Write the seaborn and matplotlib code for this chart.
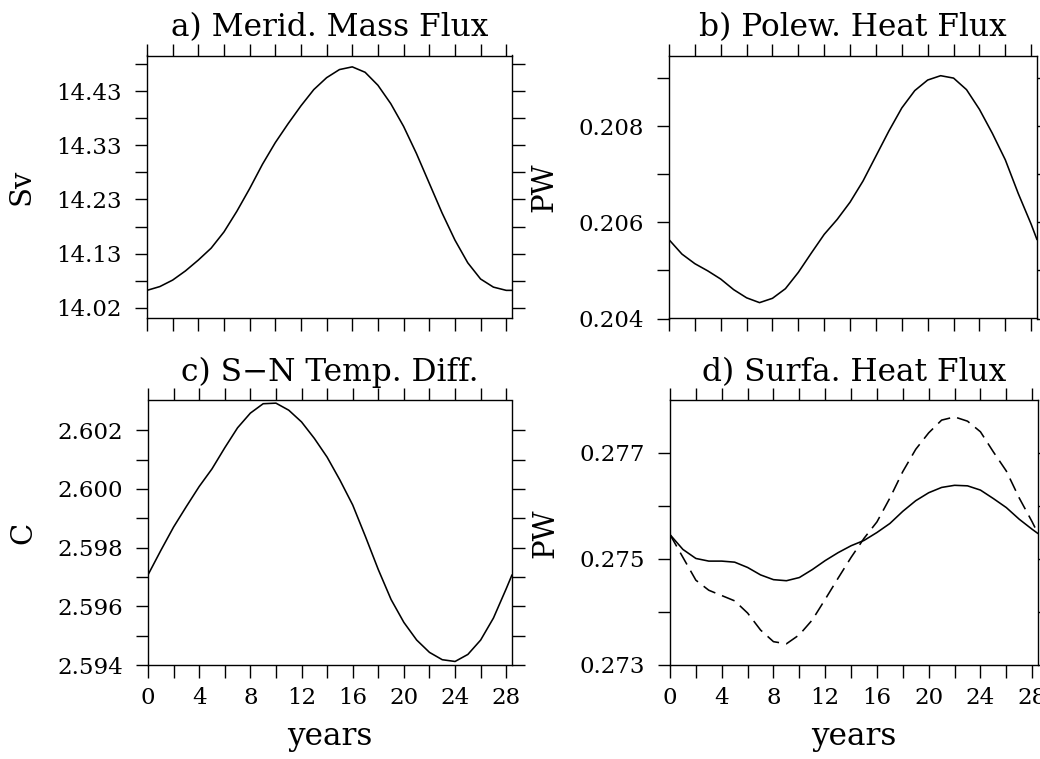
import matplotlib
matplotlib.use("Agg")
import matplotlib.pyplot as plt
import seaborn as sns

# ---------------- data ----------------
years = [0, 1, 2, 3, 4, 5, 6, 7, 8, 9, 10, 11, 12, 13, 14, 15, 16, 17, 18, 19,
         20, 21, 22, 23, 24, 25, 26, 27, 28, 28.45]

mass_flux = [14.057, 14.064, 14.076, 14.093, 14.113, 14.135, 14.165, 14.203,
             14.245, 14.290, 14.330, 14.365, 14.398, 14.428, 14.450, 14.465,
             14.470, 14.460, 14.436, 14.402, 14.360, 14.310, 14.255, 14.200,
             14.150, 14.108, 14.078, 14.063, 14.057, 14.057]

heat_flux = [0.20564, 0.20534, 0.20514, 0.20499, 0.20482, 0.20460, 0.20443,
             0.20433, 0.20442, 0.20462, 0.20496, 0.20536, 0.20575, 0.20606,
             0.20642, 0.20686, 0.20738, 0.20790, 0.20838, 0.20874, 0.20896,
             0.20905, 0.20900, 0.20876, 0.20835, 0.20785, 0.20730, 0.20660,
             0.20596, 0.20564]

temp_diff = [2.59707, 2.59790, 2.59870, 2.59940, 2.60008, 2.60068, 2.60140,
             2.60208, 2.60258, 2.60290, 2.60292, 2.60268, 2.60228, 2.60172,
             2.60108, 2.60030, 2.59945, 2.59837, 2.59725, 2.59623, 2.59545,
             2.59485, 2.59443, 2.59418, 2.59412, 2.59436, 2.59485, 2.59560,
             2.59660, 2.59707]

surf_flux_solid = [0.27546, 0.27518, 0.27501, 0.27496, 0.27496, 0.27494,
                   0.27484, 0.27470, 0.27461, 0.27459, 0.27465, 0.27480,
                   0.27497, 0.27512, 0.27525, 0.27535, 0.27550, 0.27567,
                   0.27590, 0.27610, 0.27625, 0.27635, 0.27639, 0.27638,
                   0.27630, 0.27614, 0.27597, 0.27575, 0.27556, 0.27548]

surf_flux_dashed = [0.27546, 0.27503, 0.27460, 0.27441, 0.27431, 0.27421,
                    0.27398, 0.27366, 0.27344, 0.27340, 0.27357, 0.27385,
                    0.27424, 0.27464, 0.27503, 0.27539, 0.27570, 0.27615,
                    0.27665, 0.27707, 0.27738, 0.27762, 0.27768, 0.27760,
                    0.27740, 0.27702, 0.27666, 0.27615, 0.27570, 0.27548]

titles = ["a) Merid. Mass Flux", "b) Polew. Heat Flux",
          "c) S\u2212N Temp. Diff.", "d) Surfa. Heat Flux"]
ylabels = ["Sv", "PW", "C", "PW"]

a_ticks = [14.025, 14.125, 14.225, 14.325, 14.425]
a_ticklabels = ["14.02", "14.13", "14.23", "14.33", "14.43"]
a_minor = [14.075, 14.175, 14.275, 14.375, 14.475]
b_ticks = [0.204, 0.206, 0.208]
b_ticklabels = ["0.204", "0.206", "0.208"]
b_minor = [0.205, 0.207, 0.209]
c_ticks = [2.594, 2.596, 2.598, 2.600, 2.602]
c_ticklabels = ["2.594", "2.596", "2.598", "2.600", "2.602"]
c_minor = [2.595, 2.597, 2.599, 2.601]
d_ticks = [0.273, 0.275, 0.277]
d_ticklabels = ["0.273", "0.275", "0.277"]
d_minor = [0.274, 0.276]

x_ticks = list(range(0, 29, 2))
x_ticklabels = [str(v) if v % 4 == 0 else "" for v in x_ticks]

# ---------------- style ----------------
sns.set_theme(style="ticks")
plt.rcParams["font.family"] = ["DejaVu Serif"]
plt.rcParams["axes.linewidth"] = 1.0
plt.rcParams["axes.edgecolor"] = "black"
plt.rcParams["text.color"] = "black"
plt.rcParams["axes.labelcolor"] = "black"
plt.rcParams["xtick.color"] = "black"
plt.rcParams["ytick.color"] = "black"
plt.rcParams["xtick.labelcolor"] = "black"
plt.rcParams["ytick.labelcolor"] = "black"

fig = plt.figure(figsize=(10.4, 7.59), dpi=100)
W, H = 1040, 759


def make_ax(l, r, t, b):
    return fig.add_axes([l / W, 1 - b / H, (r - l) / W, (b - t) / H])


ax_a = make_ax(147, 512, 55.5, 318.5)
ax_b = make_ax(669, 1037, 55.5, 318.5)
ax_c = make_ax(148, 512, 400.5, 665)
ax_d = make_ax(670, 1038, 400.5, 665)
axes = [ax_a, ax_b, ax_c, ax_d]

line_kw = dict(color="black", linewidth=1.15)
sns.lineplot(x=years, y=mass_flux, ax=ax_a, **line_kw)
sns.lineplot(x=years, y=heat_flux, ax=ax_b, **line_kw)
sns.lineplot(x=years, y=temp_diff, ax=ax_c, **line_kw)
sns.lineplot(x=years, y=surf_flux_solid, ax=ax_d, **line_kw)
sns.lineplot(x=years, y=surf_flux_dashed, ax=ax_d, linestyle=(0, (8.5, 4.5)),
             **line_kw)

ylims = [(14.005, 14.491), (0.204, 0.20947), (2.594, 2.60301), (0.273, 0.27799)]
yt = [(a_ticks, a_ticklabels, a_minor), (b_ticks, b_ticklabels, b_minor),
      (c_ticks, c_ticklabels, c_minor), (d_ticks, d_ticklabels, d_minor)]

for i, ax in enumerate(axes):
    ax.set_xlim(0, 28.45)
    ax.set_ylim(*ylims[i])
    ticks, labels, minor = yt[i]
    ax.set_yticks(ticks)
    ax.set_yticklabels(labels)
    ax.set_yticks(minor, minor=True)
    ax.set_xticks(x_ticks)
    if i >= 2:
        ax.set_xticklabels(x_ticklabels)
        ax.set_xlabel("years", fontsize=22.5)
        ax.xaxis.set_label_coords(0.5, -0.212)
    else:
        ax.set_xticklabels([""] * len(x_ticks))
        ax.set_xlabel("")
    ax.set_ylabel(ylabels[i], fontsize=21)
    ax.yaxis.set_label_coords(-0.305 if i % 2 == 0 else -0.300, 0.5)
    ax.tick_params(which="both", direction="out", length=9, width=1.0,
                   top=True, right=True, color="black")
    ax.tick_params(axis="both", which="major", labelsize=16.5, pad=7)
    ax.tick_params(axis="y", which="major", pad=9)
    for s in ax.spines.values():
        s.set_visible(True)
        s.set_linewidth(1.0)
        s.set_color("black")
    ax.text(0.5, 1.075, titles[i], transform=ax.transAxes, ha="center",
            va="baseline", fontsize=22.5, color="black")

fig.savefig("out.png", dpi=100)
